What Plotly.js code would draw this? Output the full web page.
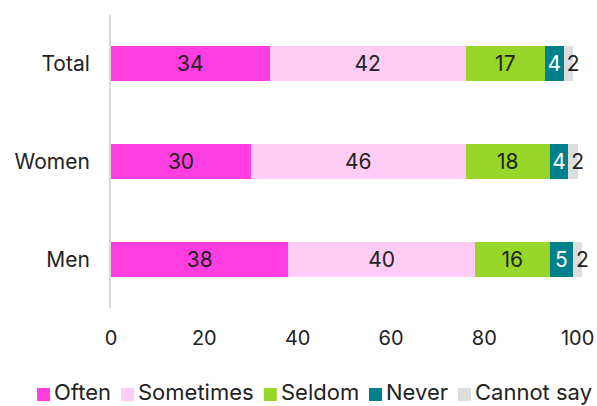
<!DOCTYPE html>
<html>
<head>
<meta charset="utf-8">
<script src="https://cdn.plot.ly/plotly-3.0.1.min.js"></script>
<style>html,body{margin:0;padding:0;background:#fff;}#chart{width:597px;height:406px;}</style>
</head>
<body>
<div id="chart"></div>
<script>
const categories = ["Total", "Women", "Men"];
const seriesNames = ["Often", "Sometimes", "Seldom", "Never", "Cannot say"];
const often = [34, 30, 38];
const sometimes = [42, 46, 40];
const seldom = [17, 18, 16];
const never = [4, 4, 5];
const cannotSay = [2, 2, 2];
const xTicks = [0, 20, 40, 60, 80, 100];

const values = [often, sometimes, seldom, never, cannotSay];
const colors = ["#ff3de0", "#ffccf6", "#98d62a", "#00808a", "#dddddd"];
const textColors = ["#222222", "#222222", "#222222", "#ffffff", "#222222"];
const font = "Inter, 'Open Sans', sans-serif";

const W = 597, H = 406;
const xMax = 102;
const pxPerUnit = 4.665;
const plotW = xMax * pxPerUnit;
const M = {l: 111, r: W - 111 - plotW, t: 15, b: 98};
const plotH = H - M.t - M.b;

const traces = values.map((v, i) => ({
  type: "bar",
  orientation: "h",
  name: seriesNames[i],
  y: categories,
  x: v,
  text: v.map(String),
  texttemplate: "%{text}",
  textposition: "inside",
  insidetextanchor: i === 4 ? "start" : "middle",
  constraintext: "none",
  cliponaxis: false,
  textfont: {family: font, size: 21, color: textColors[i]},
  insidetextfont: {family: font, size: 21, color: textColors[i]},
  marker: {color: colors[i], line: {width: 0}},
  hoverinfo: "skip",
  showlegend: false
}));

// custom legend: square, small gap, label
const legendFontSize = 22;
const ctx = document.createElement("canvas").getContext("2d");
ctx.font = legendFontSize + "px Inter";
const sq = 13, gapIn = 4, gapOut = 10;
const widths = seriesNames.map(n => ctx.measureText(n).width);
let total = widths.reduce((a, b) => a + b, 0) + seriesNames.length * (sq + gapIn) + (seriesNames.length - 1) * gapOut;
let px = (37 + 592) / 2 - total / 2;
const toPX = x => (x - M.l) / plotW;
const toPY = y => (H - M.b - y) / plotH;
const shapes = [], annotations = [];
seriesNames.forEach((n, i) => {
  shapes.push({type: "rect", xref: "paper", yref: "paper",
    x0: toPX(px), x1: toPX(px + sq), y0: toPY(401), y1: toPY(388),
    fillcolor: colors[i], line: {width: 0}});
  annotations.push({xref: "paper", yref: "paper", x: toPX(px + sq + gapIn - 1), y: toPY(392),
    xanchor: "left", yanchor: "middle", text: n, showarrow: false, borderpad: 0,
    font: {family: font, size: legendFontSize, color: "#222222"}});
  px += sq + gapIn + widths[i] + gapOut;
});

const layout = {
  width: W, height: H,
  margin: M,
  barmode: "stack",
  bargap: 0.64,
  paper_bgcolor: "#ffffff",
  plot_bgcolor: "#ffffff",
  font: {family: font, size: 19, color: "#222222"},
  showlegend: false,
  shapes: shapes,
  annotations: annotations,
  xaxis: {
    range: [0, xMax],
    tickvals: xTicks,
    ticktext: xTicks.map(String),
    showgrid: false,
    zeroline: false,
    showline: false,
    ticks: "",
    ticklabelstandoff: 16,
    tickfont: {family: font, size: 20, color: "#222222"},
    fixedrange: true
  },
  yaxis: {
    autorange: "reversed",
    showgrid: false,
    zeroline: false,
    showline: true,
    linecolor: "#d9d9d9",
    linewidth: 2,
    ticks: "",
    ticklabelstandoff: 15,
    tickfont: {family: font, size: 21, color: "#222222"},
    fixedrange: true
  }
};

Plotly.newPlot("chart", traces, layout, {displayModeBar: false, staticPlot: true});
</script>
</body>
</html>
